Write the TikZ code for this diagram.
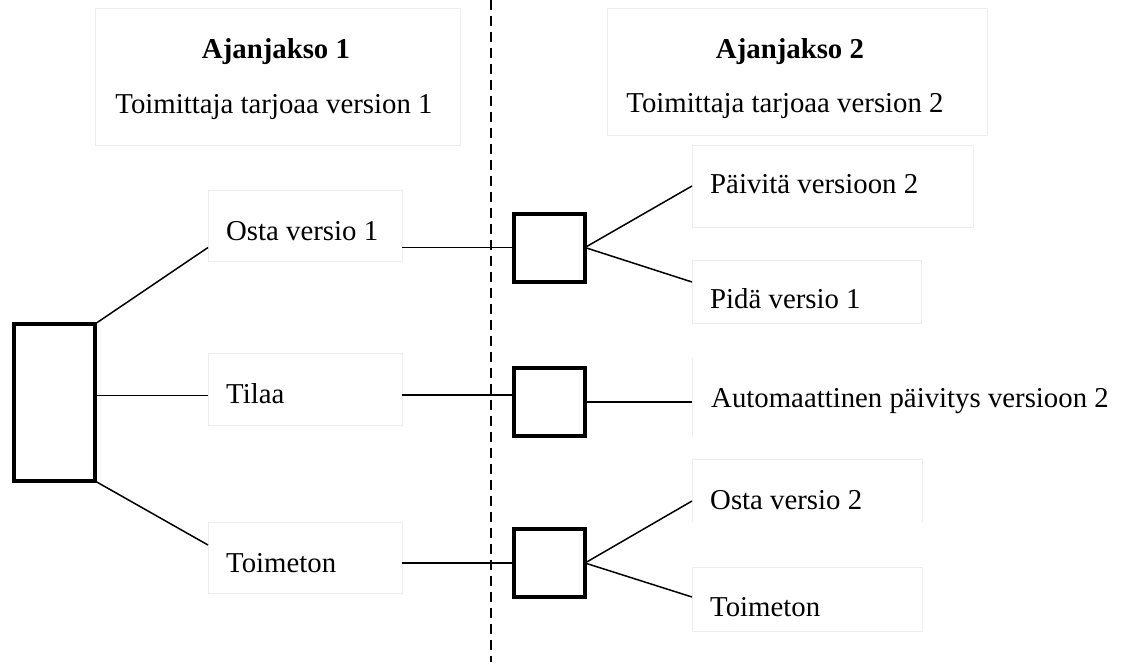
\documentclass[tikz,border=0pt]{standalone}
\usepackage{fontspec}
\setmainfont{Liberation Serif}
\begin{document}
\begin{tikzpicture}[x=1pt,y=-1pt,
  every node/.style={font=\fontsize{28.8}{34}\selectfont},
  panel/.style={draw=black!7, line width=1pt, inner sep=0pt, outer sep=0pt},
  blank/.style={inner sep=0pt, outer sep=0pt},
  faint/.style={draw=black!7, line width=1pt},
  txt/.style={anchor=base west, inner sep=0pt},
  head/.style={anchor=base, inner sep=0pt},
  decision/.style={draw, line width=4pt, inner sep=0pt, outer sep=0pt,
                   minimum width=81pt, minimum height=157pt},
  chance/.style={draw, line width=4pt, inner sep=0pt, outer sep=0pt,
                 minimum width=71pt, minimum height=68pt},
  link/.style={line width=1.5pt},
  divider/.style={line width=1.5pt, dash pattern=on 10pt off 6pt}]

\useasboundingbox[fill=white] (0,0) rectangle (1141,662);

% period headers
\node[panel, minimum width=365pt, minimum height=137pt] (hdrA) at (277.5,76.5) {};
\node[panel, minimum width=380pt, minimum height=127pt] (hdrB) at (797,71.5) {};
\node[head, font=\fontsize{28.8}{34}\selectfont\bfseries] (tA) at (276,58) {Ajanjakso 1};
\node[head] (sA) at (274,113) {Toimittaja tarjoaa version 1};
\node[head, font=\fontsize{28.8}{34}\selectfont\bfseries] (tB) at (790,58) {Ajanjakso 2};
\node[head] (sB) at (785,112) {Toimittaja tarjoaa version 2};

% dividing line between the periods
\coordinate (divtop) at (491,0);
\coordinate (divbot) at (491,662);
\draw[divider] (divtop) -- (divbot);

% option panels, period 1
\node[panel, minimum width=194pt, minimum height=71pt] (osta1) at (305,225.5) {};
\node[panel, minimum width=194pt, minimum height=72pt] (tilaa) at (305,389) {};
\node[panel, minimum width=194pt, minimum height=71pt] (toim1) at (305,557.5) {};
\node[txt] (lOsta1) at (226,240) {Osta versio 1};
\node[txt] (lTilaa) at (226,403) {Tilaa};
\node[txt] (lToim1) at (226,572) {Toimeton};

% option panels, period 2
\node[panel, minimum width=281pt, minimum height=82pt] (paiv) at (832.5,186) {};
\node[panel, minimum width=229pt, minimum height=63pt] (pida) at (806.5,291.5) {};
\node[blank, minimum width=449pt, minimum height=79pt] (auto) at (916.5,397.5) {};
\draw[faint] (auto.north west) -- (auto.south west);
\node[blank, minimum width=230pt, minimum height=63pt] (osta2) at (807,490.5) {};
\draw[faint] (osta2.south west) -- (osta2.north west) -- (osta2.north east) -- (osta2.south east);
\node[panel, minimum width=230pt, minimum height=64pt] (toim2) at (807,599) {};
\node[txt] (lPaiv) at (710,193) {Päivitä versioon 2};
\node[txt] (lPida) at (710,308) {Pidä versio 1};
\node[txt] (lAuto) at (711,407) {Automaattinen päivitys versioon 2};
\node[txt] (lOsta2) at (710,509) {Osta versio 2};
\node[txt] (lToim2) at (710,616) {Toimeton};

% decision and chance boxes
\node[decision] (root) at (54.5,402.5) {};
\node[chance] (c1) at (549.5,247.5) {};
\node[chance] (c2) at (549.5,402) {};
\node[chance] (c3) at (549.5,563) {};

% connectors
\draw[link] (root.north east) -- (osta1.west |- c1);
\draw[link] ([yshift=7pt]root.east) -- ([yshift=7pt]tilaa.west |- root.east);
\draw[link] (root.south east) -- ([yshift=12.5pt]toim1.west);

\draw[link] (osta1.east |- c1) -- (c1.west);
\draw[link] ([yshift=7pt]tilaa.east |- c2) -- ([yshift=7pt]c2.west);
\draw[link] (toim1.east |- c3) -- (c3.west);

\draw[link] (c1.east) -- (paiv.west);
\draw[link] (c1.east) -- ([yshift=9.5pt]pida.west);
\draw[link] (c2.east) -- (auto.west |- c2.east);
\draw[link] (c3.east) -- ([yshift=-10.5pt]osta2.west);
\draw[link] (c3.east) -- ([yshift=2pt]toim2.west);
\end{tikzpicture}
\end{document}
